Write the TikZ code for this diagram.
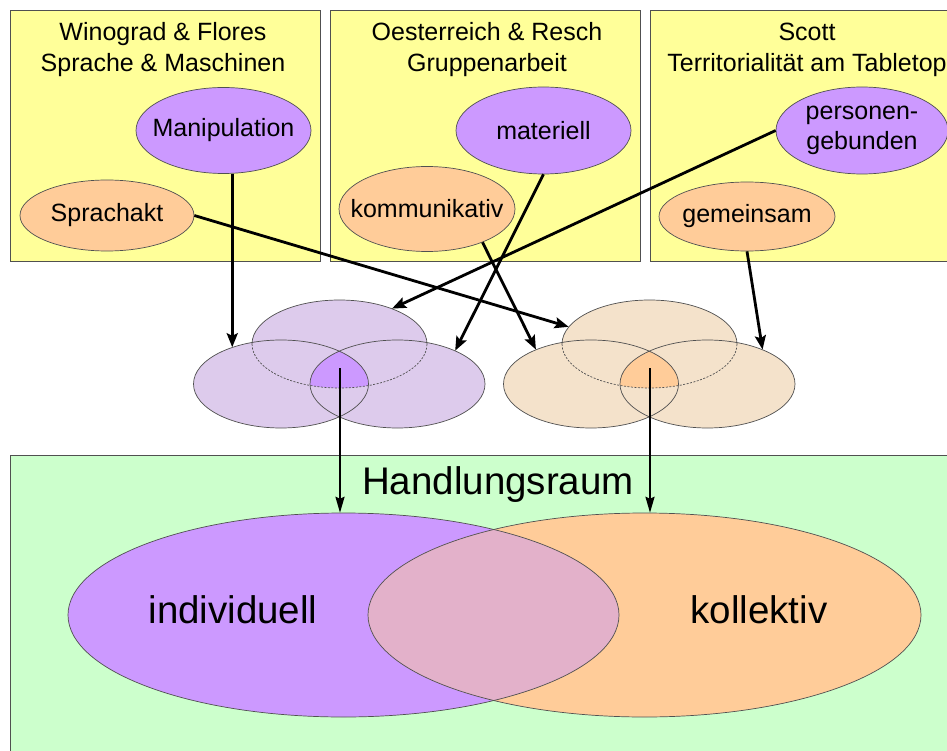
\documentclass[tikz,border=0pt]{standalone}
\usepackage{fontspec}
\setmainfont{Liberation Sans}
\usetikzlibrary{shapes.geometric,arrows.meta}
\definecolor{boxyellow}{HTML}{FFFF99}
\definecolor{boxgreen}{HTML}{CCFFCC}
\definecolor{lila}{HTML}{CC99FF}
\definecolor{orng}{HTML}{FFCC99}
\definecolor{lilalight}{HTML}{DDCBEC}
\definecolor{ornglight}{HTML}{F4E2CB}
\definecolor{mixcol}{HTML}{E3B1CA}
\definecolor{edgecol}{HTML}{505050}
\begin{document}
\begin{tikzpicture}[x=1pt,y=-1pt,
  srcbox/.style={draw=edgecol, line width=0.9pt, fill=boxyellow, minimum width=310pt, minimum height=251pt, inner sep=0pt, anchor=north west},
  titletext/.style={font=\fontsize{25}{31}\selectfont, align=center, inner sep=0pt},
  tag/.style={ellipse, draw=edgecol, line width=0.7pt, inner xsep=-20pt, inner ysep=0pt, font=\fontsize{25}{30}\selectfont, align=center},
  venn/.style={ellipse, minimum width=175pt, minimum height=88pt, inner sep=0pt},
  vline/.style={draw=edgecol, line width=0.7pt},
  vdash/.style={draw=edgecol, line width=0.7pt, dash pattern=on 2pt off 1.5pt},
  conn/.style={line width=2.8pt, -{Stealth[length=14pt,width=11pt,inset=2.5pt]}},
  downconn/.style={line width=2.2pt, -{Stealth[length=16pt,width=9pt,inset=2pt]}},
  bigtext/.style={font=\fontsize{38.5}{44}\selectfont, inner sep=0pt}
]
\useasboundingbox (0,0) rectangle (947,751);
\fill[white] (0,0) rectangle (947,751);
\begin{scope}
\clip (0,0) rectangle (947,751);
% source boxes
\node[srcbox] (b1) at (10,10) {};
\node[srcbox] (b2) at (330,10) {};
\node[srcbox] (b3) at (650,10) {};
\node[titletext] (t1) at (163,50) {Winograd \& Flores\\Sprache \& Maschinen};
\node[titletext] (t2) at (487,50) {Oesterreich \& Resch\\Gruppenarbeit};
\node[titletext] (t3) at (807,50) {Scott\\Territorialität am Tabletop};
% tags
\node[tag, fill=lila, minimum width=175pt, minimum height=86pt] (manip) at (223.5,130.5) {Manipulation};
\node[tag, fill=orng, minimum width=174pt, minimum height=71pt] (sprach) at (107,215.5) {Sprachakt};
\node[tag, fill=lila, minimum width=175pt, minimum height=87pt] (mat) at (543.5,130.5) {materiell};
\node[tag, fill=orng, minimum width=176pt, minimum height=85pt] (komm) at (427,209) {kommunikativ};
\node[tag, fill=lila, minimum width=172pt, minimum height=87pt] (pers) at (862,130.5) {personen-\\gebunden};
\node[tag, fill=orng, minimum width=176pt, minimum height=69pt] (gem) at (747,216.5) {gemeinsam};

% purple venn
\node[venn, fill=lilalight] (pT) at (339.5,344) {};
\node[venn, fill=lilalight] (pL) at (281,384) {};
\node[venn, fill=lilalight] (pR) at (397.5,384) {};
\begin{scope}
\clip (339.5,344) ellipse [x radius=87.5pt, y radius=44pt];
\clip (281,384) ellipse [x radius=87.5pt, y radius=44pt];
\fill[lila] (397.5,384) ellipse [x radius=87.5pt, y radius=44pt];
\end{scope}
\draw[vline] (281,384) ellipse [x radius=87.5pt, y radius=44pt];
\draw[vline] (397.5,384) ellipse [x radius=87.5pt, y radius=44pt];
\draw[vline] (252,344) arc [start angle=180, end angle=0, x radius=87.5pt, y radius=44pt];
\draw[vdash] (252,344) arc [start angle=180, end angle=360, x radius=87.5pt, y radius=44pt];

% orange venn
\node[venn, fill=ornglight] (oT) at (649.5,344) {};
\node[venn, fill=ornglight] (oL) at (591,384) {};
\node[venn, fill=ornglight] (oR) at (707.5,384) {};
\begin{scope}
\clip (649.5,344) ellipse [x radius=87.5pt, y radius=44pt];
\clip (591,384) ellipse [x radius=87.5pt, y radius=44pt];
\fill[orng] (707.5,384) ellipse [x radius=87.5pt, y radius=44pt];
\end{scope}
\draw[vline] (591,384) ellipse [x radius=87.5pt, y radius=44pt];
\draw[vline] (707.5,384) ellipse [x radius=87.5pt, y radius=44pt];
\draw[vline] (562,344) arc [start angle=180, end angle=0, x radius=87.5pt, y radius=44pt];
\draw[vdash] (562,344) arc [start angle=180, end angle=360, x radius=87.5pt, y radius=44pt];

% action space
\node[draw=edgecol, line width=0.9pt, fill=boxgreen, minimum width=950pt, minimum height=320pt, inner sep=0pt, anchor=north west] (raum) at (10,455) {};
\node[ellipse, fill=lila, minimum width=551pt, minimum height=204pt, inner sep=0pt] (bigL) at (343.5,615) {};
\node[ellipse, fill=orng, minimum width=553pt, minimum height=204pt, inner sep=0pt] (bigR) at (644.5,615) {};
\begin{scope}
\clip (343.5,615) ellipse [x radius=275.5pt, y radius=102pt];
\fill[mixcol] (644.5,615) ellipse [x radius=276.5pt, y radius=102pt];
\end{scope}
\draw[vline] (343.5,615) ellipse [x radius=275.5pt, y radius=102pt];
\draw[vline] (644.5,615) ellipse [x radius=276.5pt, y radius=102pt];
\node[bigtext] (hr) at (498,485) {Handlungsraum};
\node[bigtext] (ind) at (233,610) {individuell};
\node[bigtext] (kol) at (759,610) {kollektiv};

% connectors
\coordinate (pC) at (340,368);
\coordinate (oC) at (650,368);
\draw[conn] (manip.south -| pL.143) -- (pL.143);
\draw[conn] (sprach.east) -- (oT.168);
\draw[conn] (pers.west) -- (pT.34);
\draw[conn] (mat.south) -- (pR.30);
\draw[conn] (komm.-31) -- (oL.148);
\draw[conn] (gem.south) -- (oR.32);
\draw[downconn] (pC) -- (pC |- bigL.north);
\draw[downconn] (oC) -- (oC |- bigR.north);
\end{scope}
\end{tikzpicture}
\end{document}
